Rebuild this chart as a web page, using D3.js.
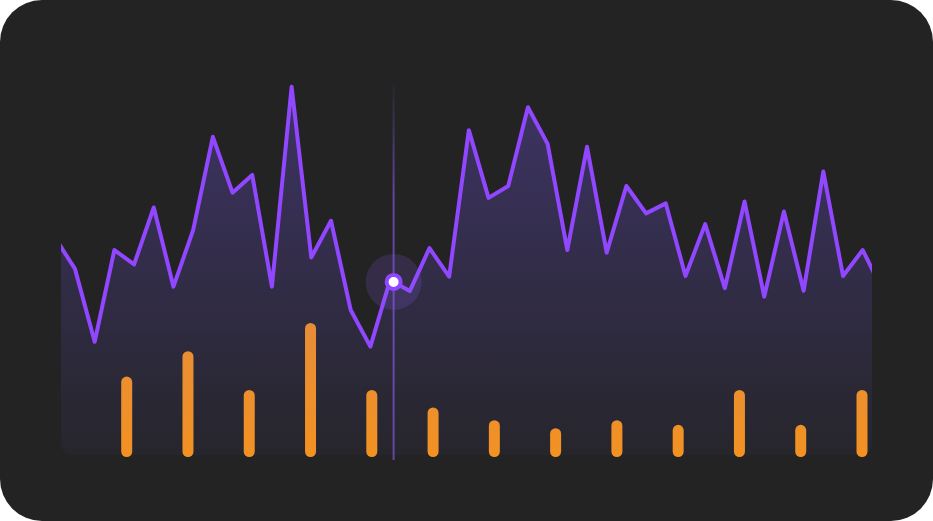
<!DOCTYPE html>
<html>
<head>
<meta charset="utf-8">
<script src="https://cdn.jsdelivr.net/npm/d3@7/dist/d3.min.js"></script>
<style>
  html, body { margin: 0; padding: 0; background: #ffffff; }
  svg { display: block; }
</style>
</head>
<body>
<svg id="chart" width="933" height="521"></svg>
<script>
// ---- data ----
const lineIndex = d3.range(0, 43);
const lineValues = [58.6, 50.3, 30.6, 55.4, 51.5, 66.9, 45.5, 60.8, 86.0, 70.9,
                    75.7, 45.5, 99.5, 53.4, 63.3, 39.2, 29.3, 47.3, 44.3, 55.9,
                    48.2, 87.8, 69.5, 72.7, 94.0, 84.1, 55.4, 83.3, 54.7, 72.7,
                    65.3, 68.0, 48.4, 62.4, 45.1, 68.5, 42.8, 65.8, 44.4, 76.6,
                    48.4, 55.4, 44.6];
const barCategories = d3.range(0, 13);
const barValues = [12, 15.8, 10, 20, 10, 7.4, 5.5, 4.3, 5.5, 4.8, 10, 4.8, 10];
const hoverIndex = 17.18;

// ---- layout ----
const W = 933, H = 521;
const plot = { left: 61, right: 872, top: 85, bottom: 455 };
const svg = d3.select("#chart");
const defs = svg.append("defs");

// card
svg.append("rect").attr("x", 0).attr("y", 0).attr("width", W).attr("height", H)
  .attr("rx", 42).attr("fill", "#232323");

// scales
const x = d3.scaleLinear().domain([0, 42]).range([55.3, 882.4]);
const y = d3.scaleLinear().domain([0, 100]).range([plot.bottom, plot.top]);
const xb = d3.scalePoint().domain(barCategories).range([126.7, 862]);
const yb = d3.scaleLinear().domain([0, 20]).range([457, 323]);

// clip
defs.append("clipPath").attr("id", "plotClip").append("rect")
  .attr("x", plot.left).attr("y", 40)
  .attr("width", plot.right - plot.left).attr("height", plot.bottom - 40)
  .attr("rx", 12);

// gradients
const ag = defs.append("linearGradient").attr("id", "areaGrad")
  .attr("gradientUnits", "userSpaceOnUse")
  .attr("x1", 0).attr("y1", plot.top).attr("x2", 0).attr("y2", plot.bottom);
ag.append("stop").attr("offset", "0%").attr("stop-color", "#7c5cff").attr("stop-opacity", 0.3);
ag.append("stop").attr("offset", "100%").attr("stop-color", "#7c5cff").attr("stop-opacity", 0.04);

const cg = defs.append("linearGradient").attr("id", "crossGrad")
  .attr("gradientUnits", "userSpaceOnUse")
  .attr("x1", 0).attr("y1", plot.top).attr("x2", 0).attr("y2", 460);
cg.append("stop").attr("offset", "0%").attr("stop-color", "#8b5cf6").attr("stop-opacity", 0.05);
cg.append("stop").attr("offset", "30%").attr("stop-color", "#8b5cf6").attr("stop-opacity", 0.6);
cg.append("stop").attr("offset", "100%").attr("stop-color", "#8b5cf6").attr("stop-opacity", 0.6);

// bars (under the area)
svg.append("g").selectAll("rect").data(barCategories).join("rect")
  .attr("x", d => xb(d) - 5.5)
  .attr("y", d => yb(barValues[d]))
  .attr("width", 11)
  .attr("height", d => yb(0) - yb(barValues[d]))
  .attr("rx", 5.5)
  .attr("fill", "#f7941a");

const data = lineIndex.map(i => ({ i, v: lineValues[i] }));
const g = svg.append("g").attr("clip-path", "url(#plotClip)");

g.append("path").datum(data)
  .attr("d", d3.area().x(d => x(d.i)).y0(plot.bottom).y1(d => y(d.v)))
  .attr("fill", "url(#areaGrad)");

// crosshair
const hx = x(hoverIndex);
const i0 = Math.floor(hoverIndex);
const t = hoverIndex - i0;
const hv = lineValues[i0] + t * (lineValues[i0 + 1] - lineValues[i0]);
const hy = y(hv);

svg.append("line")
  .attr("x1", hx).attr("x2", hx).attr("y1", plot.top).attr("y2", 460)
  .attr("stroke", "url(#crossGrad)").attr("stroke-width", 2);

g.append("path").datum(data)
  .attr("d", d3.line().x(d => x(d.i)).y(d => y(d.v)))
  .attr("fill", "none")
  .attr("stroke", "#9147ff")
  .attr("stroke-width", 4)
  .attr("stroke-linejoin", "round")
  .attr("stroke-linecap", "round");

// hover dot
svg.append("circle").attr("cx", hx).attr("cy", hy).attr("r", 28)
  .attr("fill", "#8b5cf6").attr("fill-opacity", 0.18);
svg.append("circle").attr("cx", hx).attr("cy", hy).attr("r", 7)
  .attr("fill", "#ffffff").attr("stroke", "#9147ff").attr("stroke-width", 4);
</script>
</body>
</html>
